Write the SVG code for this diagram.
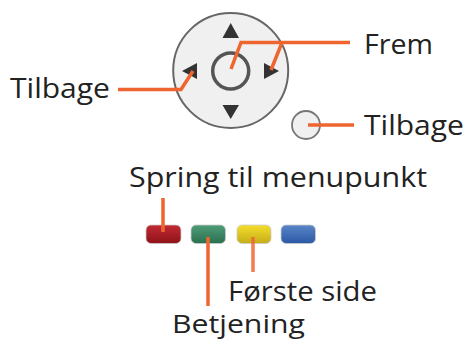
<svg xmlns="http://www.w3.org/2000/svg" width="467" height="340" viewBox="0 0 467 340">
<defs>
<linearGradient id="r" x1="0" y1="0" x2="0" y2="1"><stop offset="0" stop-color="#c22a32"/><stop offset="1" stop-color="#8e1219"/></linearGradient>
<linearGradient id="gr" x1="0" y1="0" x2="0" y2="1"><stop offset="0" stop-color="#4f9c78"/><stop offset="1" stop-color="#2a7050"/></linearGradient>
<linearGradient id="y" x1="0" y1="0" x2="0" y2="1"><stop offset="0" stop-color="#f5de2c"/><stop offset="1" stop-color="#c4ad18"/></linearGradient>
<linearGradient id="b" x1="0" y1="0" x2="0" y2="1"><stop offset="0" stop-color="#5a86c8"/><stop offset="1" stop-color="#2a58a4"/></linearGradient>
</defs>
<style>
text{font-family:"Open Sans","Noto Sans",sans-serif;font-size:27.500px;fill:#222}
.c{fill:none;stroke:#ee6530;stroke-width:3.5}
.a{fill:#333}
.k{stroke:#ccc;stroke-width:.8}
</style>
<rect width="467" height="340" fill="#fff"/>
<g id="dpad"><circle cx="230.700" cy="70.500" r="57.500" fill="#f0f0f0" stroke="#666" stroke-width="2"/><circle cx="230.700" cy="71" r="18" fill="none" stroke="#555" stroke-width="3.500"/>
<polygon class="a" points="230.700,23 222.500,38 239,38"/><polygon class="a" points="230.700,119 222.500,105 239,105"/><polygon class="a" points="182,71 197,63 197,79"/><polygon class="a" points="279,71 264,63 264,79"/></g>
<g id="back-button"><circle cx="306" cy="125" r="14" fill="#f0f0f0" stroke="#777" stroke-width="1.800"/></g>
<g id="red"><rect class="k" x="146" y="225" width="35" height="18.500" rx="5" fill="url(#r)"/></g>
<g id="green"><rect class="k" x="191" y="225" width="34.500" height="18.500" rx="5" fill="url(#gr)"/></g>
<g id="yellow"><rect class="k" x="237" y="225" width="34" height="18.500" rx="5" fill="url(#y)"/></g>
<g id="blue"><rect class="k" x="281" y="225" width="34.500" height="18.500" rx="5" fill="url(#b)"/></g>
<g id="connectors"><path class="c" d="M231 69L241 42.500H350"/><path class="c" d="M282 42.500L271 70"/><path class="c" d="M118 89.500H181L193 71"/><path class="c" d="M308 125H354"/><path class="c" d="M163 198V232"/><path class="c" d="M208 237V306"/><path class="c" stroke-opacity=".85" d="M253 237V272"/></g>
<g id="labels"><text x="364" y="54" textLength="69" lengthAdjust="spacingAndGlyphs">Frem</text><text x="10" y="98" textLength="100" lengthAdjust="spacingAndGlyphs">Tilbage</text><text x="364" y="135" textLength="100" lengthAdjust="spacingAndGlyphs">Tilbage</text><text x="129" y="186.500" textLength="298" lengthAdjust="spacingAndGlyphs">Spring til menupunkt</text><text x="228" y="301" textLength="149" lengthAdjust="spacingAndGlyphs">Første side</text><text x="172" y="332.500" textLength="133" lengthAdjust="spacingAndGlyphs" style="font-size:26px">Betjening</text></g>
</svg>
